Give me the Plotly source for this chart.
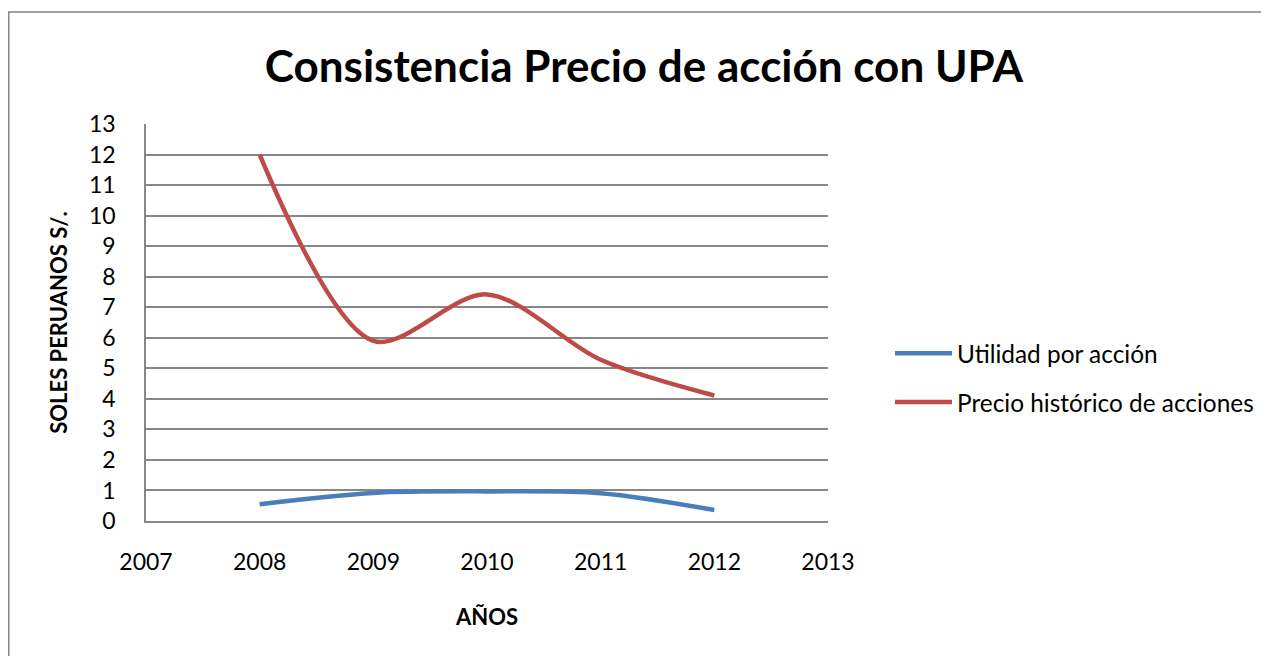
import plotly.graph_objects as go

years = [2008, 2009, 2010, 2011, 2012]
upa = [0.55, 0.92, 0.97, 0.91, 0.36]
precio = [12.0, 5.9, 7.42, 5.28, 4.11]
series_names = ["Utilidad por acción", "Precio histórico de acciones"]
x_ticks = [2007, 2008, 2009, 2010, 2011, 2012, 2013]
y_ticks = list(range(0, 14))

FONT = "Lato"

fig = go.Figure()
fig.add_trace(go.Scatter(x=years, y=upa, mode="lines", name=series_names[0],
                         line=dict(color="#4A7EBB", width=4.5, shape="spline", smoothing=0.9),
                         legendgroup="a"))
fig.add_trace(go.Scatter(x=years, y=precio, mode="lines", name=series_names[1],
                         line=dict(color="#BE4B48", width=4.5, shape="spline", smoothing=0.9),
                         legendgroup="b"))

# page body has an 8px margin; work in figure coordinates
OFF = 8
W, H = 1269 - OFF, 656 - OFF
px_left, px_right, px_top, px_bottom = 146 - OFF, 828 - OFF, 124 - OFF, 521 - OFF
L, R, T, B = px_left, W - px_right, px_top, H - px_bottom
pw, ph = px_right - px_left, px_bottom - px_top

fig.update_layout(
    width=W, height=H,
    margin=dict(l=L, r=R, t=T, b=B, autoexpand=False),
    paper_bgcolor="white", plot_bgcolor="white",
    font=dict(family=FONT, color="black"),
    title=dict(text="<b>Consistencia Precio de acción con UPA</b>",
               font=dict(family=FONT, size=44, color="black"),
               x=(644 - OFF) / W, xref="container", xanchor="center",
               y=1 - (67 - OFF) / H, yref="container", yanchor="middle"),
    xaxis=dict(range=[2007, 2013], tickvals=x_ticks, ticktext=[str(v) for v in x_ticks],
               showgrid=False, zeroline=False, showline=True, linecolor="#878787", linewidth=1.5,
               ticks="", tickfont=dict(size=23, family=FONT), ticklabelstandoff=20,
               title=dict(text="<b>AÑOS</b>", font=dict(size=22, family=FONT), standoff=35)),
    yaxis=dict(range=[0, 13], tickvals=y_ticks, showgrid=True, gridcolor="#878787", gridwidth=1.5,
               zeroline=False, showline=True, linecolor="#878787", linewidth=1.5,
               ticks="", tickfont=dict(size=23, family=FONT), ticklabelstandoff=24,
               title=dict(text="<b>SOLES PERUANOS S/.</b>", font=dict(size=22, family=FONT), standoff=15)),
    legend=dict(x=(890 - OFF - L) / pw, xanchor="left", y=(px_bottom - (378 - OFF)) / ph, yanchor="middle",
                font=dict(size=24.4, family=FONT), itemwidth=57, traceorder="grouped",
                tracegroupgap=14, bgcolor="rgba(0,0,0,0)"),
    showlegend=True,
)

fig.add_shape(type="rect", xref="paper", yref="paper",
              x0=(8.75 - OFF - L) / pw, x1=(1290 - OFF - L) / pw,
              y0=(px_bottom - 700) / ph, y1=(px_bottom - (12 - OFF)) / ph,
              line=dict(color="#878787", width=1.5), fillcolor="rgba(0,0,0,0)", layer="below")

fig.write_html("out.html")
